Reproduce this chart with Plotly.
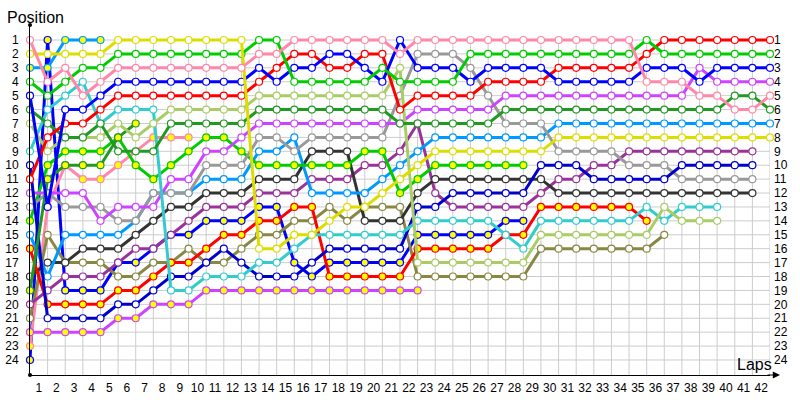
import plotly.graph_objects as go

# ---------------- data ----------------
laps = list(range(43))                      # lap 0 = grid
positions = list(range(1, 25))
lap_tick_labels = [str(n) for n in range(1, 43)]
pos_tick_labels = [str(p) for p in positions]

N = None
pink_a   = [1,4,3,5,4,3,3,3,3,3,3,3,3,2,2,1,1,1,1,1,1,2,1,1,1,1,1,1,1,1,1,1,1,1,1,4,4,4,5,5,6,6,5]
yellow_a = [2,2,2,2,2,1,1,1,1,1,1,1,1,16,16,15,15,14,13,13,12,11,10,9,9,9,9,9,9,9,8,8,8,8,8,8,8,8,8,8,8,8,8]
azure_b  = [3,3,1,1,1] + [N]*38
green_a  = [4,5,4,3,3,2,2,2,2,2,2,2,2,1,1,4,4,4,4,4,3,4,4,4,4,2,2,2,2,2,2,2,2,2,2,1,2,2,2,2,2,2,2]
blue_a   = [5,13,6,6,5,4,4,4,4,4,4,4,4,3,4,3,3,2,2,3,4,1,3,3,3,4,3,3,3,3,4,4,4,4,4,3,3,3,4,3,3,3,3]
dgreen_a = [6,7,8,8,7,9,9,9,7,7,7,7,7,6,6,6,6,6,6,6,6,7,7,7,7,7,7,6,6,6,6,6,6,6,6,6,6,6,6,6,5,5,6]
ygreen_a = [7,9,8,8,8,7,8,7,6,6,6,6,6,5,5,5,5,5,5,5,5,3,17,17,17,17,17,17,17,15,15,15,15,15,15,15,13,14,14,14,N,N,N]
dgreen_b = [19,11,10,10,10,8,7] + [N]*36
cyan_a   = [9,6,5,4,7,6,6,6,19,19,18,18,18,17,17,16,15,15,15,15,15,15,14,14,14,14,14,15,16,14,14,14,14,14,14,13,14,13,13,13,N,N,N]
navy_a   = [10,21,21,21,21,20,20,19,18,18,17,16,17,18,18,18,17,16,16,16,16,16,13,13,12,12,12,12,12,10,10,10,11,11,11,11,11,10,10,10,10,10,N]
red_a    = [11,8,7,7,6,5,5,5,5,5,5,5,5,4,3,2,2,3,3,2,2,6,5,5,5,5,4,4,4,4,3,3,3,3,3,2,1,1,1,1,1,1,1]
violet_a = [12,12,12,12,14,13,13,13,11,11,9,9,8,7,7,7,7,7,7,7,7,7,6,6,6,6,6,5,5,5,5,5,5,5,5,5,5,5,3,4,4,4,4]
gray_a   = [13,12,13,13,13,14,14,12,12,12,10,10,10,8,8,9,8,8,8,8,8,5,2,2,2,3,5,7,7,7,9,9,9,9,10,10,10,11,11,11,11,11,N]
green_b  = [14,10,9,9,9,8,10,11,10,9,8,8,9,10,10,10,10,10,10,9,9,12,11,10,10,10,10,10,10] + [N]*14
azure_a  = [15,18,15,15,15,15,14,12,12,12,11,11,11,9,9,8,12,12,12,12,11,10,9,8,8,8,8,8,8,8,7,7,7,7,7,7,7,7,7,7,7,7,7]
red_b    = [16,20,20,20,20,19,19,18,17,17,16,15,15,14,14,13,13,18,18,18,18,18,16,16,16,16,16,15,15,13,13,13,13,13,13,14] + [N]*7
dgray_a  = [18,17,17,16,16,16,15,14,13,13,12,12,12,11,11,11,9,9,9,14,14,14,12,11,11,11,11,11,11,11,12,12,12,12,12,12,12,12,12,12,12,12,N]
purple_a = [20,19,18,18,18,17,16,16,15,14,13,13,13,12,12,12,11,11,11,10,10,9,7,12,13,13,13,13,13,12,11,11,10,10,9,9,9,9,9,9,9,9,N]
olive_a  = [21,15,17,17,17,18,18,17,17,16,17,17,16,15,15,14,14,13,14,13,13,13,18,18,18,18,18,18,18,16,16,16,16,16,16,16,15] + [N]*6
violet_b = [22,22,22,22,22,21,21,20,20,20] + [19]*13 + [N]*20
pink_b   = [23,13,10,11,11,10,9,8,8,8] + [N]*33
blue_b   = [24,1,19,19,19,17,17,16,15,15,14,14,14,13,13,17,18,17,17,17,17,17,15,15,15,15,15,14,14] + [N]*14

# (values, line colour, marker fill)
series = [
    (blue_b,   "#0000FF", "#FFFF00"),
    (pink_b,   "#FF88AA", "#FFFF00"),
    (violet_b, "#CC44FF", "#FFFF00"),
    (olive_a,  "#888844", "white"),
    (purple_a, "#993399", "white"),
    (dgray_a,  "#333333", "white"),
    (red_b,    "#FF0000", "#FFFF00"),
    (azure_a,  "#0099FF", "white"),
    (green_b,  "#00CC00", "#FFFF00"),
    (gray_a,   "#999999", "white"),
    (violet_a, "#CC44FF", "white"),
    (navy_a,   "#0000CC", "white"),
    (cyan_a,   "#33CCCC", "white"),
    (dgreen_b, "#229922", "#FFFF00"),
    (ygreen_a, "#AACC66", "white"),
    (dgreen_a, "#229922", "white"),
    (red_a,    "#FF0000", "white"),
    (blue_a,   "#0000FF", "white"),
    (green_a,  "#00CC00", "white"),
    (azure_b,  "#0099FF", "#FFFF00"),
    (yellow_a, "#DDDD00", "white"),
    (pink_a,   "#FF88AA", "white"),
]

fig = go.Figure()

# grid lines (light grey)
gx, gy = [], []
for L in laps[1:]:
    gx += [L, L, None]
    gy += [0.85, 25.08, None]
for p in positions:
    gx += [laps[0], laps[-1], None]
    gy += [p, p, None]
fig.add_trace(go.Scatter(x=gx, y=gy, mode="lines", line=dict(color="#CCCCCC", width=1),
                         hoverinfo="skip", showlegend=False))

for vals, col, fill in series:
    xs = [l for l, v in zip(laps, vals) if v is not None]
    ys = [v for v in vals if v is not None]
    fig.add_trace(go.Scatter(
        x=xs, y=ys, mode="lines+markers",
        line=dict(color=col, width=3),
        marker=dict(size=7, color=fill, line=dict(color=col, width=1.2)),
        cliponaxis=False, showlegend=False, hoverinfo="skip"))

# invisible trace for right-side axis
fig.add_trace(go.Scatter(x=[laps[0]], y=[positions[0]], yaxis="y2", mode="markers",
                         marker=dict(opacity=0), showlegend=False, hoverinfo="skip"))

tick_font = dict(family="Liberation Sans, Arial, sans-serif", size=12, color="black")
fig.update_layout(
    width=800, height=400,
    margin=dict(l=30, r=30, t=25, b=25, autoexpand=False),
    plot_bgcolor="white", paper_bgcolor="white",
    xaxis=dict(range=[0, 42], showgrid=False, zeroline=False, showline=True,
               linecolor="black", linewidth=1, automargin=False,
               tickvals=[l - 0.5 for l in laps[1:]], ticktext=lap_tick_labels,
               ticks="", tickfont=tick_font, ticklabelstandoff=2),
    yaxis=dict(range=[25.08, -0.08], showgrid=False, zeroline=False, showline=True,
               linecolor="black", linewidth=1, automargin=False,
               tickvals=positions, ticktext=pos_tick_labels, ticks="",
               tickfont=tick_font, ticklabelstandoff=8),
    yaxis2=dict(range=[25.08, -0.08], overlaying="y", side="right", anchor="x",
                showgrid=False, zeroline=False, showline=False, automargin=False,
                tickvals=positions, ticktext=pos_tick_labels, ticks="",
                tickfont=tick_font, ticklabelstandoff=3),
    annotations=[
        dict(text="Position", xref="paper", yref="paper", x=-0.034, y=1.05,
             xanchor="left", yanchor="top", showarrow=False,
             font=dict(family="Liberation Sans, Arial, sans-serif", size=16, color="black")),
        dict(text="Laps", xref="paper", yref="paper", x=1.006, y=0.03,
             xanchor="right", yanchor="middle", showarrow=False,
             font=dict(family="Liberation Sans, Arial, sans-serif", size=16, color="black")),
        dict(text="", xref="paper", yref="paper", x=1.0135, y=0, ax=-14, ay=0,
             showarrow=True, arrowhead=2, arrowsize=1.2, arrowwidth=1.2, arrowcolor="black"),
    ],
    shapes=[
        dict(type="circle", xref="paper", yref="paper", x0=-2/740, x1=2/740,
             y0=1-2/350, y1=1+2/350, fillcolor="black", line=dict(color="black", width=0)),
        dict(type="circle", xref="paper", yref="paper", x0=-2/740, x1=2/740,
             y0=-2/350, y1=2/350, fillcolor="black", line=dict(color="black", width=0)),
    ],
)

fig.write_html("out.html", config={"displayModeBar": False},
               post_script="document.body.style.margin='0';document.body.style.overflow='hidden';")
